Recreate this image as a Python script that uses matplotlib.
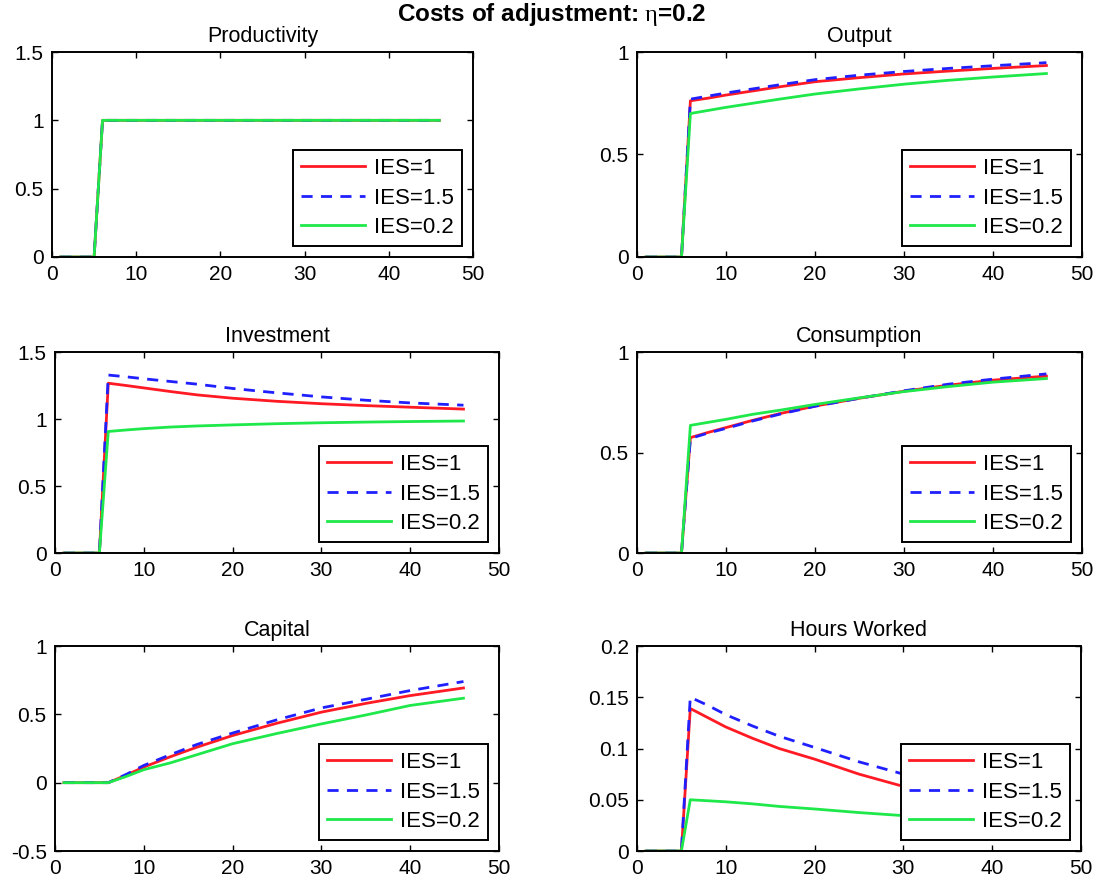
import matplotlib
matplotlib.use("Agg")
import matplotlib.pyplot as plt
from matplotlib.ticker import FixedLocator, FuncFormatter

t = [1, 5, 6, 8, 10, 13, 16, 20, 25, 30, 35, 40, 46]

labels = ["IES=1", "IES=1.5", "IES=0.2"]

productivity_ies1 = [0, 0, 1, 1, 1, 1, 1, 1, 1, 1, 1, 1, 1]
productivity_ies15 = [0, 0, 1, 1, 1, 1, 1, 1, 1, 1, 1, 1, 1]
productivity_ies02 = [0, 0, 1, 1, 1, 1, 1, 1, 1, 1, 1, 1, 1]

output_ies1 = [0, 0, 0.762, 0.775, 0.79, 0.81, 0.83, 0.855, 0.875, 0.893, 0.907, 0.92, 0.934]
output_ies15 = [0, 0, 0.77, 0.785, 0.80, 0.82, 0.84, 0.865, 0.887, 0.905, 0.92, 0.933, 0.948]
output_ies02 = [0, 0, 0.70, 0.715, 0.73, 0.75, 0.77, 0.795, 0.82, 0.843, 0.862, 0.878, 0.895]

investment_ies1 = [0, 0, 1.267, 1.25, 1.232, 1.205, 1.18, 1.155, 1.132, 1.114, 1.10, 1.088, 1.074]
investment_ies15 = [0, 0, 1.328, 1.315, 1.30, 1.28, 1.26, 1.228, 1.195, 1.165, 1.14, 1.12, 1.103]
investment_ies02 = [0, 0, 0.907, 0.918, 0.928, 0.94, 0.948, 0.956, 0.965, 0.972, 0.977, 0.981, 0.985]

consumption_ies1 = [0, 0, 0.574, 0.60, 0.624, 0.66, 0.693, 0.731, 0.77, 0.805, 0.835, 0.86, 0.88]
consumption_ies15 = [0, 0, 0.57, 0.597, 0.62, 0.657, 0.69, 0.73, 0.77, 0.807, 0.84, 0.865, 0.891]
consumption_ies02 = [0, 0, 0.635, 0.65, 0.665, 0.69, 0.71, 0.739, 0.772, 0.803, 0.828, 0.85, 0.868]

capital_ies1 = [0, 0, 0, 0.055, 0.114, 0.19, 0.26, 0.345, 0.435, 0.516, 0.58, 0.637, 0.693]
capital_ies15 = [0, 0, 0, 0.06, 0.126, 0.205, 0.28, 0.363, 0.46, 0.547, 0.61, 0.674, 0.74]
capital_ies02 = [0, 0, 0, 0.045, 0.095, 0.145, 0.205, 0.285, 0.36, 0.43, 0.495, 0.565, 0.618]

hours_ies1 = [0, 0, 0.139, 0.13, 0.121, 0.11, 0.10, 0.0896, 0.075, 0.063, 0.054, 0.047, 0.04]
hours_ies15 = [0, 0, 0.150, 0.142, 0.133, 0.122, 0.112, 0.101, 0.087, 0.075, 0.065, 0.057, 0.049]
hours_ies02 = [0, 0, 0.050, 0.049, 0.048, 0.046, 0.0435, 0.041, 0.0375, 0.0345, 0.032, 0.029, 0.027]

titles = ["Productivity", "Output", "Investment", "Consumption", "Capital", "Hours Worked"]
series = [
    (productivity_ies1, productivity_ies15, productivity_ies02),
    (output_ies1, output_ies15, output_ies02),
    (investment_ies1, investment_ies15, investment_ies02),
    (consumption_ies1, consumption_ies15, consumption_ies02),
    (capital_ies1, capital_ies15, capital_ies02),
    (hours_ies1, hours_ies15, hours_ies02),
]
y_ticks = [
    [0, 0.5, 1, 1.5],
    [0, 0.5, 1],
    [0, 0.5, 1, 1.5],
    [0, 0.5, 1],
    [-0.5, 0, 0.5, 1],
    [0, 0.05, 0.1, 0.15, 0.2],
]
x_ticks = [0, 10, 20, 30, 40, 50]

# axes boxes in pixels: left, top, right, bottom
boxes = [
    (52, 52, 473, 257),
    (637, 52, 1082, 257),
    (55, 352, 499, 553),
    (637, 352, 1082, 553),
    (55, 646, 499, 851),
    (637, 646, 1081, 851),
]

W, H = 1101, 888
plt.rcParams["font.family"] = ["Liberation Sans", "DejaVu Sans"]
plt.rcParams["font.size"] = 15
plt.rcParams["mathtext.fontset"] = "custom"
plt.rcParams["mathtext.rm"] = "Liberation Serif"
plt.rcParams["mathtext.it"] = "Liberation Serif"

fig = plt.figure(figsize=(W / 100, H / 100), dpi=100, facecolor="white")

colors = ["#ff1a24", "#2020ff", "#1ee84a"]

for i, (title, ser, yt, box) in enumerate(zip(titles, series, y_ticks, boxes)):
    l, top, r, b = box
    ax = fig.add_axes([l / W, (H - b) / H, (r - l) / W, (b - top) / H])
    ax.plot(t, ser[0], color=colors[0], lw=2, label=labels[0])
    ax.plot(t, ser[1], color=colors[1], lw=2, dashes=(4, 3), label=labels[1])
    ax.plot(t, ser[2], color=colors[2], lw=2, label=labels[2])
    ax.set_xlim(0, 50)
    ax.set_ylim(yt[0], yt[-1])
    ax.xaxis.set_major_locator(FixedLocator(x_ticks))
    ax.yaxis.set_major_locator(FixedLocator(yt))
    ax.yaxis.set_major_formatter(FuncFormatter(lambda v, p: f"{v:g}"))
    ax.tick_params(direction="in", length=4, width=1, top=True, right=True,
                   labelsize=15, pad=6, colors="black")
    for sp in ax.spines.values():
        sp.set_linewidth(1.4)
        sp.set_color("black")
    ax.set_title(title, fontsize=15.5, pad=7)
    leg = ax.legend(loc="lower right", fontsize=16, fancybox=False, framealpha=1,
                    edgecolor="black", handlelength=2.9, handletextpad=0.4,
                    labelspacing=0.38, borderaxespad=0.5, borderpad=0.35)
    leg.get_frame().set_linewidth(1.4)

fig.text(552 / W, 1 - 14 / H, r"Costs of adjustment: $\eta$=0.2", ha="center", va="center",
         fontsize=17.5, fontweight="bold")

fig.savefig("out.png", dpi=100, facecolor="white")
